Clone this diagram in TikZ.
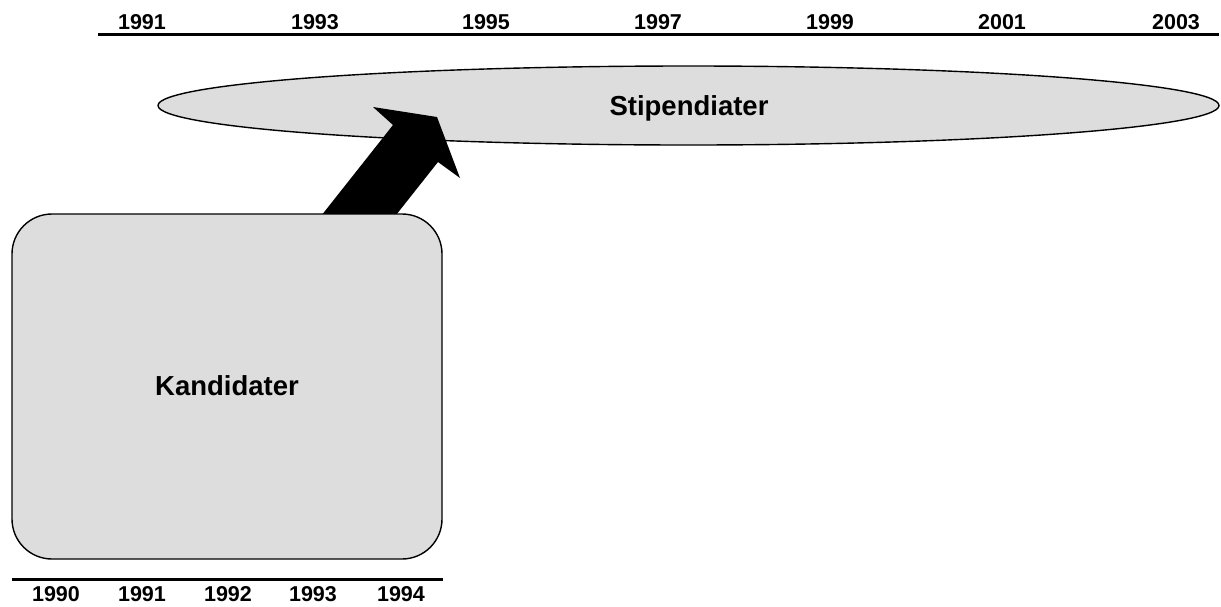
\documentclass[tikz,border=0pt]{standalone}
\usepackage{fontspec}
\setmainfont{Liberation Sans}
\usetikzlibrary{shapes.geometric}
\definecolor{boxgray}{RGB}{221,221,221}
\begin{document}
\begin{tikzpicture}[x=1pt,y=-1pt,
  yearlbl/.style={font=\fontsize{21.5}{24}\selectfont\bfseries, inner sep=0pt, anchor=base},
  mainlbl/.style={font=\fontsize{27.5}{30}\selectfont\bfseries, inner sep=0pt, anchor=base},
  axisline/.style={line width=3pt},
  grayshape/.style={draw=black, line width=1.4pt, fill=boxgray, inner sep=0pt}]
\useasboundingbox (0,0) rectangle (1221,606);

% top axis
\coordinate (ta) at (98,34.5);
\coordinate (tb) at (1219,34.5);
\draw[axisline] (ta) -- (tb);
\foreach \x/\y in {142/1991,315/1993,486/1995,658/1997,830/1999,1002/2001,1176/2003}
  \node[yearlbl] (t\y) at (\x,29.5) {\y};

% ellipse
\node[grayshape, ellipse, minimum width=1061pt, minimum height=79pt] (stip) at (688.5,105.5) {};
\node[mainlbl] (stiplbl) at (689,115) {Stipendiater};

% block arrow
\fill[black] (306,235) -- (393,125) -- (373,107) -- (437,117) -- (460,178) -- (438,162) -- (381,234) -- cycle;

% box
\node[grayshape, rectangle, rounded corners=40pt, minimum width=430pt, minimum height=345pt] (kand) at (227,386.5) {};
\node[mainlbl] (kandlbl) at (227,395) {Kandidater};

% bottom axis
\coordinate (ba) at (12,579);
\coordinate (bb) at (443,579);
\draw[axisline] (ba) -- (bb);
\foreach \x/\y in {56/1990,142/1991,228/1992,313/1993,401/1994}
  \node[yearlbl] (b\y) at (\x,601.5) {\y};
\end{tikzpicture}
\end{document}
